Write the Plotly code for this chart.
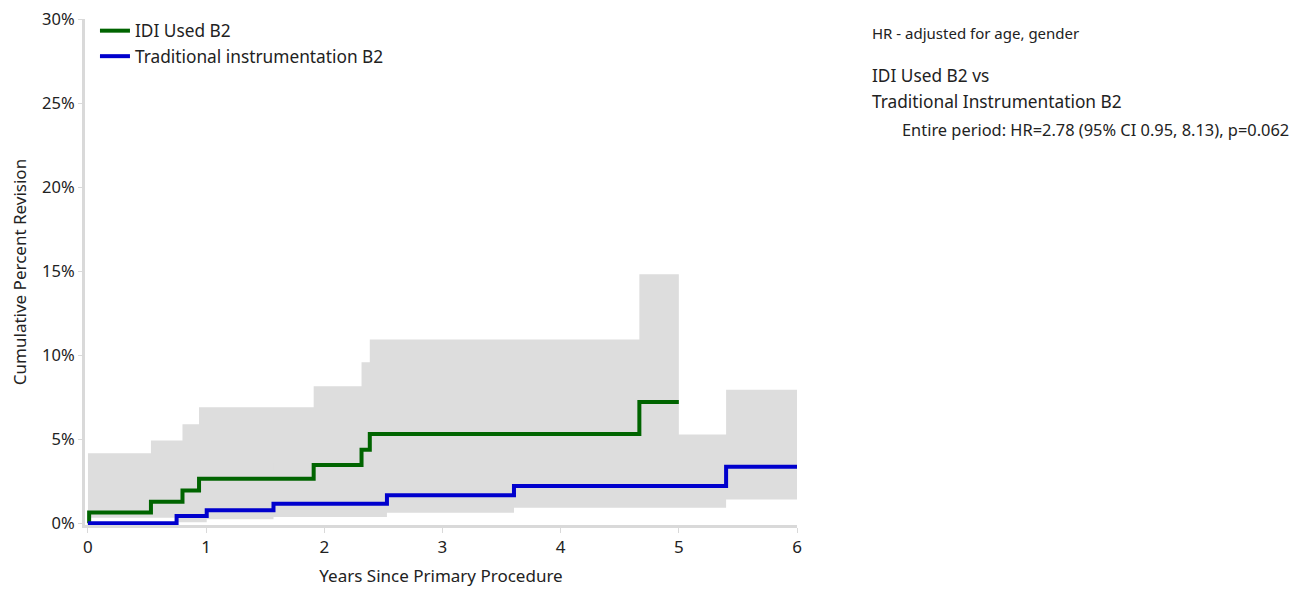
import plotly.graph_objects as go

# ---- data ----
idi_time = [0.0, 0.01, 0.533, 0.80, 0.94, 1.91, 2.315, 2.385, 4.666, 5.0]
idi_cpr = [0.0, 0.64, 1.29, 1.95, 2.65, 3.47, 4.38, 5.32, 7.21, 7.21]
idi_upper = [4.17, 4.17, 4.92, 5.9, 6.9, 8.15, 9.58, 10.93, 14.82, 14.82]
idi_lower = [0.33, 0.33, 0.33, 0.6, 0.9, 1.3, 1.8, 2.4, 3.6, 3.6]

trad_time = [0.0, 0.75, 1.005, 1.57, 2.53, 3.605, 5.40, 6.0]
trad_cpr = [0.0, 0.44, 0.77, 1.17, 1.67, 2.22, 3.36, 3.36]
trad_upper = [0.0, 2.9, 3.1, 3.6, 4.1, 5.28, 7.94, 7.94]
trad_lower = [0.0, 0.06, 0.24, 0.37, 0.63, 0.92, 1.42, 1.42]

series_names = ["IDI Used B2", "Traditional instrumentation B2"]
x_ticks = [0, 1, 2, 3, 4, 5, 6]
y_ticks = [0, 5, 10, 15, 20, 25, 30]

BAND = "#dddddd"
GREEN = "#006400"
BLUE = "#0000cd"
FONT = "Noto Sans"
TXT = "#222222"

fig = go.Figure()

# confidence bands (drawn first, opaque gray)
for t, lo, hi in [(idi_time, idi_lower, idi_upper), (trad_time, trad_lower, trad_upper)]:
    fig.add_trace(go.Scatter(x=t, y=lo, mode="lines", line=dict(width=0, shape="hv", color=BAND),
                             showlegend=False, hoverinfo="skip"))
    fig.add_trace(go.Scatter(x=t, y=hi, mode="lines", line=dict(width=0, shape="hv", color=BAND),
                             fill="tonexty", fillcolor=BAND, showlegend=False, hoverinfo="skip"))

fig.add_trace(go.Scatter(x=idi_time, y=idi_cpr, mode="lines", name=series_names[0],
                         line=dict(color=GREEN, width=4, shape="hv")))
fig.add_trace(go.Scatter(x=trad_time, y=trad_cpr, mode="lines", name=series_names[1],
                         line=dict(color=BLUE, width=4, shape="hv")))

fig.update_layout(
    width=1297, height=583,
    margin=dict(l=77, r=508, t=11, b=66, autoexpand=False),
    paper_bgcolor="white", plot_bgcolor="white",
    font=dict(family=FONT, size=17, color=TXT),
    showlegend=True,
    legend=dict(x=0.014, y=1.012, xanchor="left", yanchor="top", bgcolor="rgba(0,0,0,0)",
                traceorder="normal", font=dict(size=17.3, color=TXT), tracegroupgap=0, itemwidth=30),
    xaxis=dict(range=[-0.025, 6.0], tickvals=x_ticks, ticktext=[str(v) for v in x_ticks],
               showgrid=False, zeroline=False, showline=True, linecolor="#d9d9d9", linewidth=3,
               ticks="outside", ticklen=5, tickcolor="#d9d9d9", tickwidth=1, automargin=False,
               tickfont=dict(size=17),
               title=dict(text="Years Since Primary Procedure", font=dict(size=17), standoff=13)),
    yaxis=dict(range=[-0.1, 30.0], tickvals=y_ticks, ticktext=[f"{v}%" for v in y_ticks],
               showgrid=False, zeroline=False, showline=True, linecolor="#d9d9d9", linewidth=3,
               ticks="outside", ticklen=4, tickcolor="#d9d9d9", tickwidth=1, automargin=False,
               tickfont=dict(size=16.5), ticklabeloverflow="allow",
               title=dict(text="Cumulative Percent Revision", font=dict(size=17), standoff=15)),
)

annots = [
    (1.1025, 0.972, "HR - adjusted for age, gender", 15),
    (1.1025, 0.8876, "IDI Used B2 vs", 17.3),
    (1.1025, 0.8363, "Traditional Instrumentation B2", 17.3),
    (1.1447, 0.781, "Entire period: HR=2.78 (95% CI 0.95, 8.13), p=0.062", 16.4),
]
for x, y, txt, sz in annots:
    fig.add_annotation(x=x, y=y, xref="paper", yref="paper", text=txt, showarrow=False,
                       xanchor="left", yanchor="middle", font=dict(size=sz, color=TXT, family=FONT))

fig.write_html("out.html")
